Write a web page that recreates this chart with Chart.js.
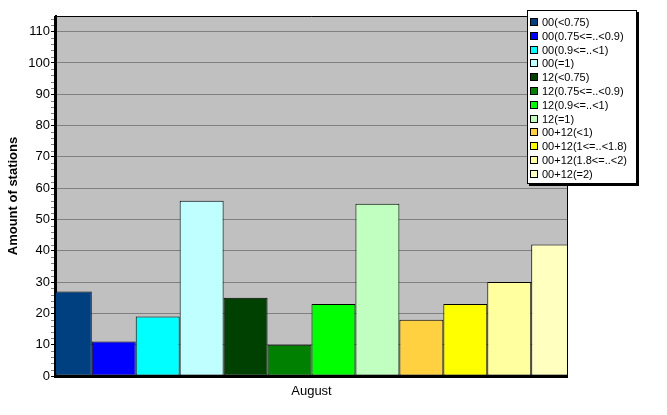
<!DOCTYPE html>
<html><head><meta charset="utf-8">
<script src="https://cdn.jsdelivr.net/npm/chart.js@4"></script>
<style>html,body{margin:0;padding:0;background:#fff;}</style>
</head><body>
<canvas id="c" width="667" height="415"></canvas>
<script>
const categories = ['August'];
const seriesNames = ['00(<0.75)', '00(0.75<=..<0.9)', '00(0.9<=..<1)', '00(=1)',
  '12(<0.75)', '12(0.75<=..<0.9)', '12(0.9<=..<1)', '12(=1)',
  '00+12(<1)', '00+12(1<=..<1.8)', '00+12(1.8<=..<2)', '00+12(=2)'];
const seriesValues = [27, 11, 19, 56, 25, 10, 23, 55, 18, 23, 30, 42];
const seriesColors = ['#004080', '#0000FF', '#00FFFF', '#C0FFFF',
  '#004000', '#008000', '#00FF00', '#C0FFC0',
  '#FFD040', '#FFFF00', '#FFFFA0', '#FFFFC0'];
const yTickValues = [0, 10, 20, 30, 40, 50, 60, 70, 80, 90, 100, 110];
const yMax = 115;
const yTitle = 'Amount of stations';

const FAM = "'Liberation Sans', Arial, sans-serif";

const bgPlugin = {
  id: 'bg',
  beforeDraw(chart) {
    const a = chart.chartArea, ctx = chart.ctx;
    ctx.save();
    ctx.fillStyle = '#C0C0C0';
    ctx.fillRect(a.left, a.top, a.right - a.left, a.bottom - a.top);
    ctx.restore();
  }
};

const framePlugin = {
  id: 'frame',
  afterDatasetsDraw(chart) {
    const a = chart.chartArea, ctx = chart.ctx, ys = chart.scales.y;
    ctx.save();
    ctx.strokeStyle = '#000';
    ctx.lineWidth = 1;
    ctx.beginPath();
    ctx.moveTo(a.left, a.top + 0.5); ctx.lineTo(a.right + 0.5, a.top + 0.5);
    ctx.lineTo(a.right + 0.5, a.bottom);
    ctx.stroke();
    ctx.lineWidth = 2;
    ctx.beginPath();
    ctx.moveTo(a.left - 1, a.top); ctx.lineTo(a.left - 1, a.bottom + 1); ctx.lineTo(a.right + 1, a.bottom + 1);
    ctx.stroke();
    // minor ticks
    ctx.strokeStyle = '#808080';
    ctx.lineWidth = 1;
    for (let v = 2; v < yMax; v += 2) {
      if (v % 10 === 0) continue;
      const y = Math.round(ys.getPixelForValue(v)) + 0.5;
      ctx.beginPath();
      ctx.moveTo(a.left - 5, y); ctx.lineTo(a.left - 2, y);
      ctx.stroke();
    }
    ctx.restore();
  }
};

const legendPlugin = {
  id: 'customLegend',
  afterDraw(chart) {
    const ctx = chart.ctx;
    const lx = 527, ly = 10, lw = 110, lh = 174;
    ctx.save();
    ctx.fillStyle = '#000';
    ctx.fillRect(lx + 2, ly + 2, lw, lh);
    ctx.fillStyle = '#fff';
    ctx.fillRect(lx, ly, lw, lh);
    ctx.strokeStyle = '#000';
    ctx.lineWidth = 1;
    ctx.strokeRect(lx + 0.5, ly + 0.5, lw - 1, lh - 1);
    ctx.font = '11px ' + FAM;
    ctx.textBaseline = 'middle';
    chart.data.datasets.forEach((ds, i) => {
      const cy = Math.round(ly + 12 + i * 13.8);
      ctx.fillStyle = ds.backgroundColor;
      ctx.fillRect(lx + 3, cy - 4, 8, 8);
      ctx.strokeStyle = '#000';
      ctx.strokeRect(lx + 3.5, cy - 3.5, 7, 7);
      ctx.fillStyle = '#000';
      ctx.fillText(ds.label, lx + 15, cy + 0.5);
    });
    ctx.restore();
  }
};

new Chart(document.getElementById('c'), {
  type: 'bar',
  data: {
    labels: categories,
    datasets: seriesNames.map((n, i) => ({
      label: n,
      data: [seriesValues[i]],
      backgroundColor: seriesColors[i],
      borderColor: '#000',
      borderWidth: 1,
      borderSkipped: false,
      clip: 0,
      categoryPercentage: 1.032,
      barPercentage: 1
    }))
  },
  options: {
    responsive: false,
    animation: false,
    layout: { padding: { left: 0, right: 100, top: 16, bottom: 0 } },
    plugins: { legend: { display: false }, tooltip: { enabled: false } },
    scales: {
      x: {
        grid: { display: false, drawTicks: false },
        border: { display: true, color: '#000', width: 2 },
        ticks: { color: '#000', font: { family: FAM, size: 13 }, padding: 8 },
        afterFit(s) { s.height = 39; }
      },
      y: {
        min: 0, max: yMax,
        afterBuildTicks(s) { s.ticks = yTickValues.map(v => ({ value: v })); },
        grid: { color: '#808080', lineWidth: 1, tickColor: '#000', tickLength: 5, drawTicks: true },
        border: { display: true, color: '#000', width: 2 },
        ticks: { color: '#000', font: { family: FAM, size: 13 }, padding: 1 },
        title: { display: true, text: yTitle, color: '#000', font: { family: FAM, size: 13, weight: 'bold' }, padding: { top: 6, bottom: 0 } },
        afterFit(s) { s.width = 56; }
      }
    }
  },
  plugins: [bgPlugin, framePlugin, legendPlugin]
});
</script>
</body></html>
